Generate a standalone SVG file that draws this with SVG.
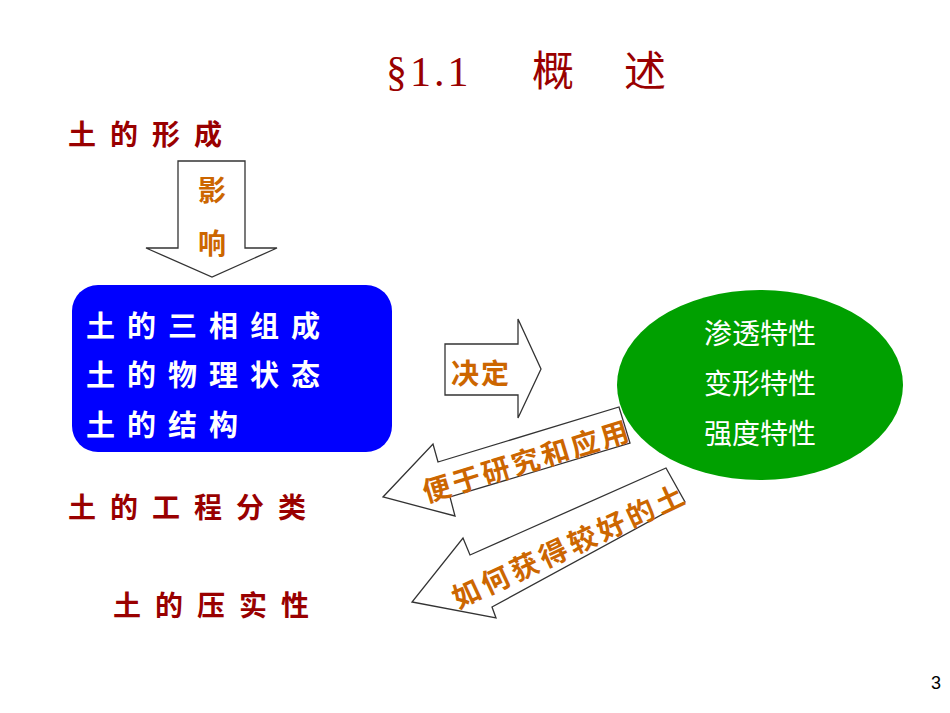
<svg xmlns="http://www.w3.org/2000/svg" width="950" height="713" viewBox="0 0 950 713">
<style>
.red{fill:#990000;font-family:"Noto Sans CJK SC",sans-serif;font-weight:bold;font-size:28px;letter-spacing:14px}
.org{fill:#cc6600;font-family:"Noto Sans CJK SC",sans-serif;font-weight:bold;font-size:28px}
.wh{fill:#fff;font-family:"Noto Sans CJK SC",sans-serif;font-weight:bold;font-size:29px;letter-spacing:12px}
.gr{fill:#fff;font-family:"Noto Sans CJK SC",sans-serif;font-size:28px;text-anchor:middle}
.arr{fill:#fff;stroke:#333;stroke-width:1.3}
.tt{fill:#990000;font-family:"Liberation Serif","Noto Sans CJK SC",serif;font-size:42px}
</style>
<rect width="950" height="713" fill="#fff"/>
<g id="title">
<text class="tt" x="386" y="86" letter-spacing="3">§1.1</text>
<text class="tt" x="532" y="86">概</text>
<text class="tt" x="624" y="86">述</text>
</g>
<g id="formation"><text class="red" x="68" y="145">土的形成</text></g>
<g id="connectors">
<polygon class="arr" points="178,161 245,161 245,248 277,248 212,277 146,248 178,248"/>
<text class="org" x="212" y="201" text-anchor="middle">影</text>
<text class="org" x="212" y="254" text-anchor="middle">响</text>
<polygon class="arr" points="445,344 518,344 518,319 541,369 518,418 518,395 445,395"/>
<text class="org" x="481" y="384" text-anchor="middle" letter-spacing="2">决定</text>
<polygon class="arr" points="438,462 619,407 630,443 450,497 455,516 383,497 433,444"/>
<text class="org" transform="translate(530,471) rotate(-17)" text-anchor="middle" font-size="25" letter-spacing="3">便于研究和应用</text>
<polygon class="arr" points="470,555 666,468 685,502 492,607 496,618 412,602 463,538"/>
<text class="org" transform="translate(574,555) rotate(-25)" text-anchor="middle" font-size="25" letter-spacing="4">如何获得较好的土</text>
</g>
<g id="box">
<rect x="72" y="285" width="320" height="167" rx="26" fill="#0000ff"/>
<text class="wh" x="86" y="337">土的三相组成</text>
<text class="wh" x="86" y="386">土的物理状态</text>
<text class="wh" x="86" y="436">土的结构</text>
</g>
<g id="props">
<ellipse cx="760" cy="385" rx="143" ry="95" fill="#00a000"/>
<text class="gr" x="760" y="344">渗透特性</text>
<text class="gr" x="760" y="394">变形特性</text>
<text class="gr" x="760" y="444">强度特性</text>
</g>
<g id="classify"><text class="red" x="68" y="518">土的工程分类</text></g>
<g id="compaction"><text class="red" x="113" y="616">土的压实性</text></g>
<text x="936" y="689" font-family="Liberation Sans,sans-serif" font-size="18" text-anchor="middle">3</text>
</svg>
